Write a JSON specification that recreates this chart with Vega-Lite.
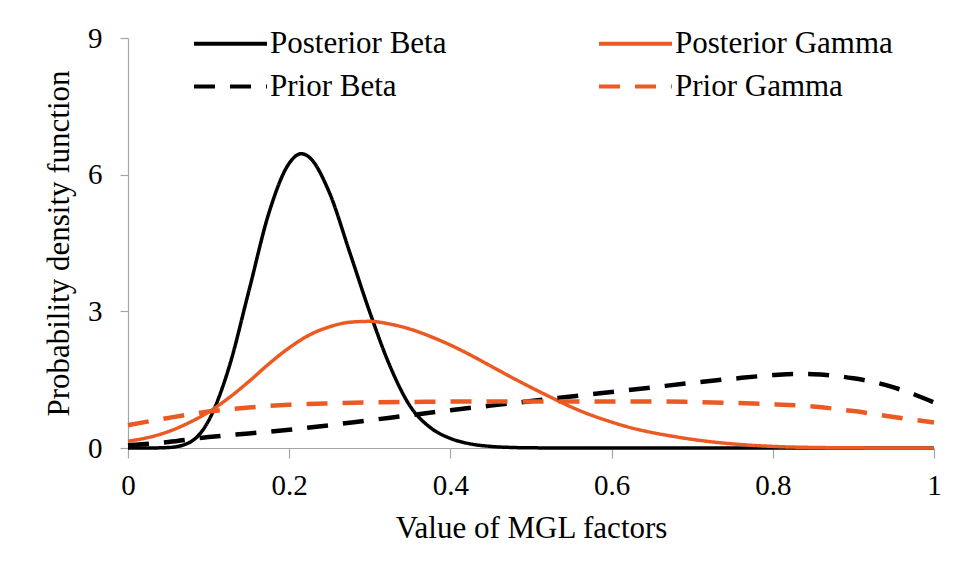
{
  "$schema": "https://vega.github.io/schema/vega-lite/v6.json",
  "autosize": "none",
  "width": 806,
  "height": 410,
  "padding": {"left": 128, "top": 38, "right": 30, "bottom": 128},
  "background": "white",
  "data": {"values": [
    {"series": "Posterior Beta", "x": 0, "y": 0},
    {"series": "Posterior Beta", "x": 0.025, "y": 0},
    {"series": "Posterior Beta", "x": 0.05, "y": 0.01},
    {"series": "Posterior Beta", "x": 0.075, "y": 0.11},
    {"series": "Posterior Beta", "x": 0.1, "y": 0.6},
    {"series": "Posterior Beta", "x": 0.125, "y": 1.75},
    {"series": "Posterior Beta", "x": 0.15, "y": 3.45},
    {"series": "Posterior Beta", "x": 0.175, "y": 5.17},
    {"series": "Posterior Beta", "x": 0.2, "y": 6.25},
    {"series": "Posterior Beta", "x": 0.215, "y": 6.46},
    {"series": "Posterior Beta", "x": 0.225, "y": 6.38},
    {"series": "Posterior Beta", "x": 0.25, "y": 5.6},
    {"series": "Posterior Beta", "x": 0.275, "y": 4.3},
    {"series": "Posterior Beta", "x": 0.3, "y": 2.98},
    {"series": "Posterior Beta", "x": 0.325, "y": 1.8},
    {"series": "Posterior Beta", "x": 0.35, "y": 0.92},
    {"series": "Posterior Beta", "x": 0.375, "y": 0.45},
    {"series": "Posterior Beta", "x": 0.4, "y": 0.21},
    {"series": "Posterior Beta", "x": 0.425, "y": 0.09},
    {"series": "Posterior Beta", "x": 0.45, "y": 0.035},
    {"series": "Posterior Beta", "x": 0.475, "y": 0.012},
    {"series": "Posterior Beta", "x": 0.5, "y": 0.004},
    {"series": "Posterior Beta", "x": 0.55, "y": 0},
    {"series": "Posterior Beta", "x": 0.6, "y": 0},
    {"series": "Posterior Beta", "x": 0.7, "y": 0},
    {"series": "Posterior Beta", "x": 0.8, "y": 0},
    {"series": "Posterior Beta", "x": 0.9, "y": 0},
    {"series": "Posterior Beta", "x": 1.0, "y": 0},
    {"series": "Prior Beta", "x": 0, "y": 0.06},
    {"series": "Prior Beta", "x": 0.05, "y": 0.13},
    {"series": "Prior Beta", "x": 0.1, "y": 0.24},
    {"series": "Prior Beta", "x": 0.15, "y": 0.32},
    {"series": "Prior Beta", "x": 0.2, "y": 0.4},
    {"series": "Prior Beta", "x": 0.25, "y": 0.5},
    {"series": "Prior Beta", "x": 0.3, "y": 0.61},
    {"series": "Prior Beta", "x": 0.35, "y": 0.72},
    {"series": "Prior Beta", "x": 0.4, "y": 0.83},
    {"series": "Prior Beta", "x": 0.45, "y": 0.93},
    {"series": "Prior Beta", "x": 0.5, "y": 1.03},
    {"series": "Prior Beta", "x": 0.55, "y": 1.13},
    {"series": "Prior Beta", "x": 0.6, "y": 1.23},
    {"series": "Prior Beta", "x": 0.65, "y": 1.33},
    {"series": "Prior Beta", "x": 0.7, "y": 1.43},
    {"series": "Prior Beta", "x": 0.75, "y": 1.52},
    {"series": "Prior Beta", "x": 0.8, "y": 1.6},
    {"series": "Prior Beta", "x": 0.825, "y": 1.625},
    {"series": "Prior Beta", "x": 0.85, "y": 1.62},
    {"series": "Prior Beta", "x": 0.875, "y": 1.59},
    {"series": "Prior Beta", "x": 0.9, "y": 1.53},
    {"series": "Prior Beta", "x": 0.925, "y": 1.45},
    {"series": "Prior Beta", "x": 0.95, "y": 1.33},
    {"series": "Prior Beta", "x": 0.975, "y": 1.18},
    {"series": "Prior Beta", "x": 1.0, "y": 1.0},
    {"series": "Posterior Gamma", "x": 0, "y": 0.15},
    {"series": "Posterior Gamma", "x": 0.025, "y": 0.23},
    {"series": "Posterior Gamma", "x": 0.05, "y": 0.36},
    {"series": "Posterior Gamma", "x": 0.075, "y": 0.55},
    {"series": "Posterior Gamma", "x": 0.1, "y": 0.79},
    {"series": "Posterior Gamma", "x": 0.125, "y": 1.1},
    {"series": "Posterior Gamma", "x": 0.15, "y": 1.46},
    {"series": "Posterior Gamma", "x": 0.175, "y": 1.85},
    {"series": "Posterior Gamma", "x": 0.2, "y": 2.2},
    {"series": "Posterior Gamma", "x": 0.225, "y": 2.48},
    {"series": "Posterior Gamma", "x": 0.25, "y": 2.66},
    {"series": "Posterior Gamma", "x": 0.275, "y": 2.76},
    {"series": "Posterior Gamma", "x": 0.3, "y": 2.78},
    {"series": "Posterior Gamma", "x": 0.325, "y": 2.72},
    {"series": "Posterior Gamma", "x": 0.35, "y": 2.61},
    {"series": "Posterior Gamma", "x": 0.375, "y": 2.45},
    {"series": "Posterior Gamma", "x": 0.4, "y": 2.26},
    {"series": "Posterior Gamma", "x": 0.425, "y": 2.04},
    {"series": "Posterior Gamma", "x": 0.45, "y": 1.8},
    {"series": "Posterior Gamma", "x": 0.475, "y": 1.56},
    {"series": "Posterior Gamma", "x": 0.5, "y": 1.33},
    {"series": "Posterior Gamma", "x": 0.525, "y": 1.11},
    {"series": "Posterior Gamma", "x": 0.55, "y": 0.9},
    {"series": "Posterior Gamma", "x": 0.575, "y": 0.72},
    {"series": "Posterior Gamma", "x": 0.6, "y": 0.57},
    {"series": "Posterior Gamma", "x": 0.625, "y": 0.44},
    {"series": "Posterior Gamma", "x": 0.65, "y": 0.34},
    {"series": "Posterior Gamma", "x": 0.675, "y": 0.26},
    {"series": "Posterior Gamma", "x": 0.7, "y": 0.19},
    {"series": "Posterior Gamma", "x": 0.75, "y": 0.09},
    {"series": "Posterior Gamma", "x": 0.8, "y": 0.035},
    {"series": "Posterior Gamma", "x": 0.85, "y": 0.012},
    {"series": "Posterior Gamma", "x": 0.9, "y": 0.004},
    {"series": "Posterior Gamma", "x": 0.95, "y": 0.001},
    {"series": "Posterior Gamma", "x": 1.0, "y": 0},
    {"series": "Prior Gamma", "x": 0, "y": 0.5},
    {"series": "Prior Gamma", "x": 0.05, "y": 0.66},
    {"series": "Prior Gamma", "x": 0.1, "y": 0.8},
    {"series": "Prior Gamma", "x": 0.15, "y": 0.89},
    {"series": "Prior Gamma", "x": 0.2, "y": 0.95},
    {"series": "Prior Gamma", "x": 0.25, "y": 0.98},
    {"series": "Prior Gamma", "x": 0.3, "y": 1.0},
    {"series": "Prior Gamma", "x": 0.35, "y": 1.01},
    {"series": "Prior Gamma", "x": 0.4, "y": 1.02},
    {"series": "Prior Gamma", "x": 0.45, "y": 1.02},
    {"series": "Prior Gamma", "x": 0.5, "y": 1.02},
    {"series": "Prior Gamma", "x": 0.55, "y": 1.02},
    {"series": "Prior Gamma", "x": 0.6, "y": 1.02},
    {"series": "Prior Gamma", "x": 0.65, "y": 1.02},
    {"series": "Prior Gamma", "x": 0.7, "y": 1.01},
    {"series": "Prior Gamma", "x": 0.75, "y": 0.99},
    {"series": "Prior Gamma", "x": 0.8, "y": 0.96},
    {"series": "Prior Gamma", "x": 0.85, "y": 0.91},
    {"series": "Prior Gamma", "x": 0.9, "y": 0.81},
    {"series": "Prior Gamma", "x": 0.95, "y": 0.68},
    {"series": "Prior Gamma", "x": 1.0, "y": 0.56}
  ]},
  "encoding": {
    "x": {"field": "x", "type": "quantitative",
          "scale": {"domain": [0, 1], "nice": false},
          "axis": {"values": [0, 0.2, 0.4, 0.6, 0.8, 1], "format": "~g", "title": "Value of MGL factors",
                   "tickSize": 10, "labelPadding": 13, "titlePadding": 13, "labelFlush": false}},
    "y": {"field": "y", "type": "quantitative",
          "scale": {"domain": [0, 9], "nice": false},
          "axis": {"values": [0, 3, 6, 9], "title": "Probability density function",
                   "tickSize": 8, "labelPadding": 18, "titlePadding": 12, "labelFlush": false}},
    "color": {"field": "series", "type": "nominal",
              "scale": {"domain": ["Posterior Beta", "Prior Beta", "Posterior Gamma", "Prior Gamma"],
                        "range": ["#000000", "#000000", "#EB5A23", "#EB5A23"]},
              "legend": {"title": null, "orient": "none", "legendX": 82, "legendY": -15, "columns": 2,
                         "columnPadding": 144, "rowPadding": 7, "symbolType": "M-2,0H2", "symbolSize": 1332,
                         "symbolStrokeWidth": 4, "labelFont": "Liberation Serif", "labelFontSize": 31,
                         "labelColor": "#000000", "labelOffset": 19, "labelLimit": 400}},
    "strokeDash": {"field": "series", "type": "nominal",
                   "scale": {"domain": ["Posterior Beta", "Prior Beta", "Posterior Gamma", "Prior Gamma"],
                             "range": [[1, 0], [21, 15], [1, 0], [21, 15]]},
                   "legend": {"title": null}}
  },
  "layer": [
    {"transform": [{"filter": "indexof(datum.series, 'Posterior') == 0"}],
     "mark": {"type": "line", "interpolate": "monotone", "strokeWidth": 3.5, "strokeCap": "butt"}},
    {"transform": [{"filter": "indexof(datum.series, 'Prior') == 0"}],
     "mark": {"type": "line", "interpolate": "monotone", "strokeWidth": 4.5, "strokeCap": "butt"}}
  ],
  "config": {
    "view": {"stroke": null},
    "font": "Liberation Serif",
    "axis": {"grid": false, "domainColor": "#a6a6a6", "tickColor": "#a6a6a6", "domainWidth": 1.2, "tickWidth": 1.2,
             "labelFont": "Liberation Serif", "labelFontSize": 29, "labelColor": "#000000",
             "titleFont": "Liberation Serif", "titleFontSize": 31, "titleFontWeight": "normal", "titleColor": "#000000"}
  }
}
